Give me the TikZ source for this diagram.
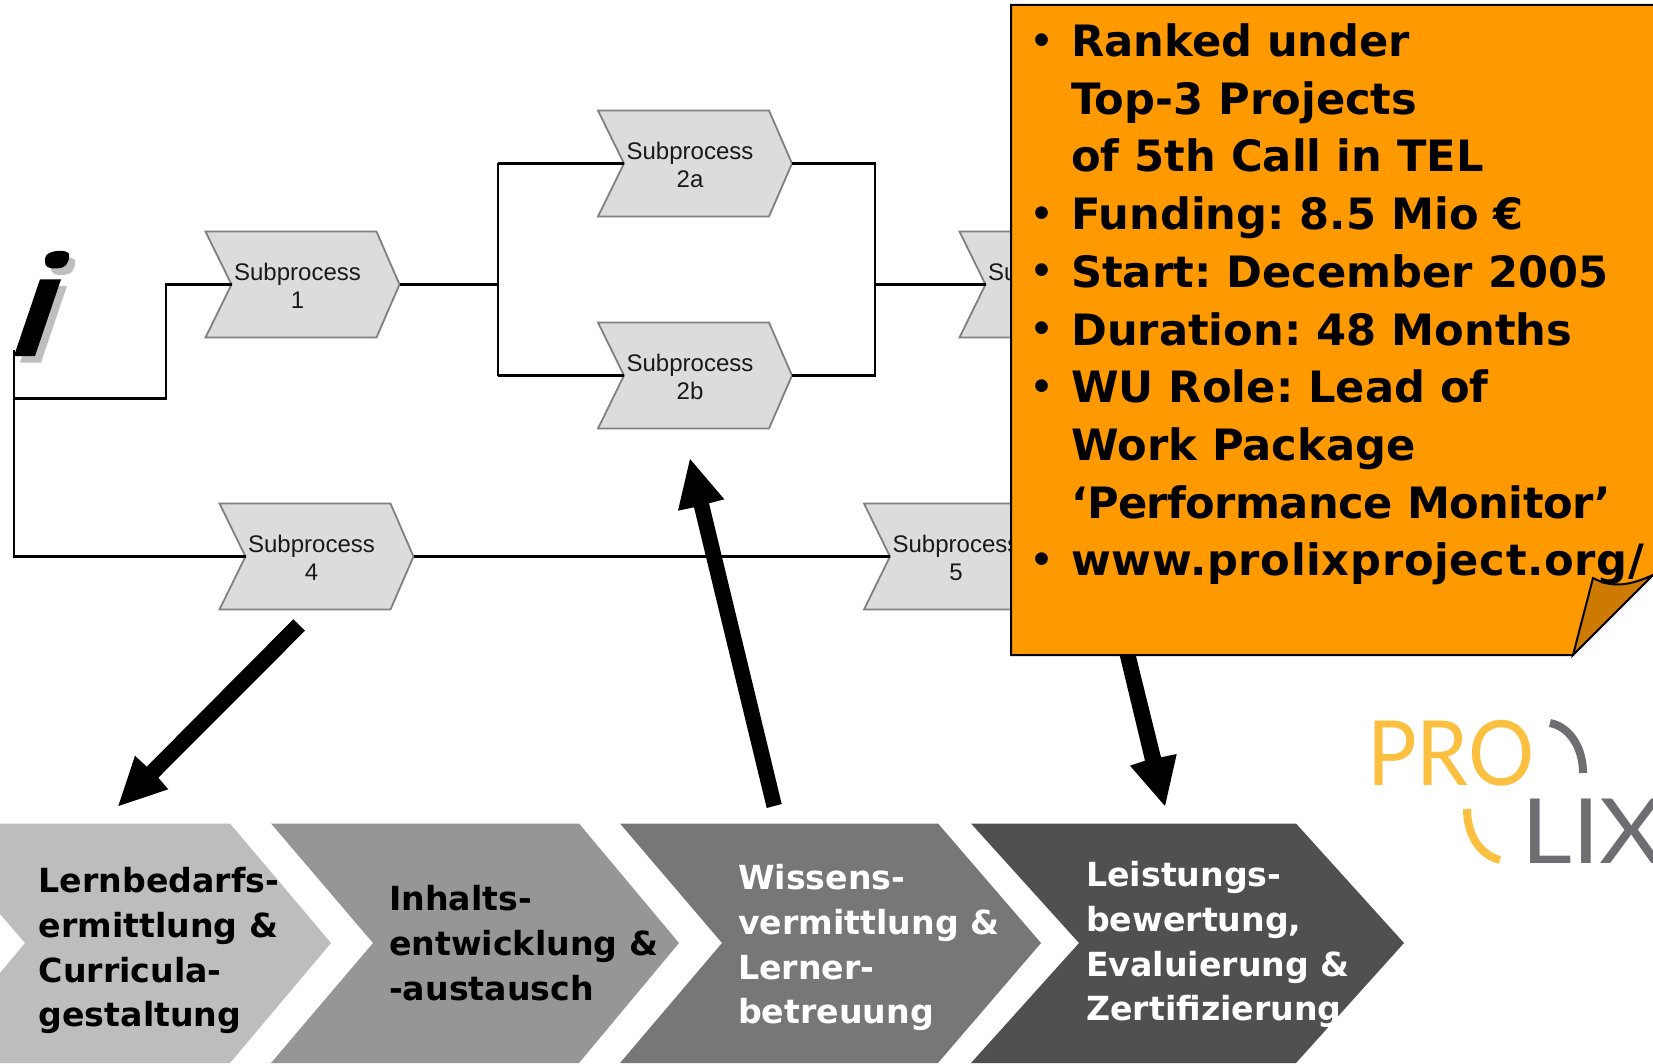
\documentclass[tikz,border=0pt]{standalone}
\usepackage{fontspec}
\setmainfont{Liberation Sans}
\newfontfamily\verd{DejaVu Sans}
\newfontfamily\logofont{Lato}
\definecolor{subfill}{HTML}{DCDCDC}
\definecolor{subedge}{HTML}{808080}
\definecolor{notefill}{HTML}{FF9900}
\definecolor{notefold}{HTML}{CC7A00}
\definecolor{logoy}{HTML}{FBC040}
\definecolor{logog}{HTML}{6D6E71}
\definecolor{iconshadow}{HTML}{BEBEBE}
\tikzset{
  subshape/.style={fill=subfill,draw=subedge,line width=1.8pt,line join=miter},
  sublabel/.style={font=\fontsize{24}{28}\selectfont,align=center,inner sep=0pt,text=black!90},
  conn/.style={draw=black,line width=2.5pt,line join=miter},
  bigarrow/.style={fill=black,draw=none},
  chevlabel/.style={font=\frenchspacing\verd\bfseries\fontsize{33.2}{44.6}\selectfont,align=left,inner sep=0pt,anchor=north west},
  notelabel/.style={font=\frenchspacing\verd\bfseries\fontsize{43.2}{57.7}\selectfont,align=left,inner sep=0pt,anchor=north west,text=black},
  logotext/.style={font=\logofont\fontsize{90}{90}\selectfont,inner sep=0pt,anchor=base west},
  logoarc/.style={line width=8pt,line cap=butt},
}
% name, left x, mid y, label
\newcommand{\subproc}[4]{%
  \path[subshape] (#2,#3-53) -- (#2+171,#3-53) -- (#2+194,#3) -- (#2+171,#3+53) -- (#2,#3+53) -- (#2+26,#3) -- cycle;
  \coordinate (#1-in) at (#2+26,#3);
  \coordinate (#1-out) at (#2+194,#3);
  \node[sublabel] (#1) at (#2+92,#3+1) {#4};
}
\newcommand{\bul}{\llap{\raisebox{3.5pt}{\fontsize{36}{36}\selectfont•}\hspace{17.5pt}}}
\begin{document}
\begin{tikzpicture}[x=1pt,y=-1pt]
\useasboundingbox (0,0) rectangle (1653,1064);
\clip (0,0) rectangle (1653,1064);
\fill[white] (0,0) rectangle (1653,1064);

% connector junctions
\coordinate (start) at (14,350);
\coordinate (branch) at (14,398.5);
\coordinate (low) at (14,556.5);
\coordinate (up) at (166,398.5);
\coordinate (upb) at (166,284.5);
\coordinate (j1) at (498,284.5);
\coordinate (j1a) at (498,163.5);
\coordinate (j1b) at (498,375.5);
\coordinate (j2) at (875,284.5);
\coordinate (j2a) at (875,163.5);
\coordinate (j2b) at (875,375.5);

% info icon
\begin{scope}[shift={(6,6.5)}]
  \fill[iconshadow] (40,279.3) -- (61,279.3) -- (35,356) -- (14,356) -- cycle;
  \fill[iconshadow] (46,256) .. controls (49,250) and (67,249) .. (69,254) .. controls (70,262) and (66,268.5) .. (56,268.5) .. controls (45,269) and (43,263) .. (46,256) -- cycle;
\end{scope}
\fill[black] (40,279.3) -- (61,279.3) -- (35,356) -- (14,356) -- cycle;
\fill[black] (46,256) .. controls (49,250) and (67,249) .. (69,254) .. controls (70,262) and (66,268.5) .. (56,268.5) .. controls (45,269) and (43,263) .. (46,256) -- cycle;

% subprocess shapes
\subproc{s1}{205.5}{284.5}{Subprocess\\1}
\subproc{s2a}{598}{163.5}{Subprocess\\2a}
\subproc{s2b}{598}{375.5}{Subprocess\\2b}
\subproc{s3}{959.5}{284.5}{Subprocess\\3}
\subproc{s4}{219.5}{556.5}{Subprocess\\4}
\subproc{s5}{864}{556.5}{Subprocess\\5}

% connectors
\draw[conn] (start) -- (low) -- (s4-in);
\draw[conn] (branch) -- (up) -- (upb) -- (s1-in);
\draw[conn] (s1-out) -- (j1);
\draw[conn] (j1a) -- (j1b);
\draw[conn] (j1a) -- (s2a-in);
\draw[conn] (j1b) -- (s2b-in);
\draw[conn] (s2a-out) -- (j2a) -- (j2b) -- (s2b-out);
\draw[conn] (j2) -- (s3-in);
\draw[conn] (s4-out) -- (s5-in);

% big arrows
\fill[bigarrow] (293.3,619.3) -- (305,630.7) -- (158.3,777.7) -- (168.3,789.3) -- (118.3,806) -- (135,755.7) -- (146.7,766.7) -- cycle;
\fill[bigarrow] (781.7,804) -- (766.7,808) -- (694,507.3) -- (678,510.7) -- (690,459) -- (724.3,499.3) -- (709,503.3) -- cycle;
\fill[bigarrow] (1116,640) -- (1132,640) -- (1161,757.3) -- (1176.7,754) -- (1165,806) -- (1130,765.7) -- (1145,760.7) -- cycle;

% value chain
\fill[fill={rgb,255:red,189;green,189;blue,189}] (0,823.5) -- (230,823.5) -- (331,943) -- (230,1063) -- (0,1063) -- (0,973) -- (25,943) -- (0,914) -- cycle;
\fill[fill={rgb,255:red,150;green,150;blue,150}] (271,823.5) -- (579,823.5) -- (679,943) -- (579,1063) -- (271,1063) -- (373,943) -- cycle;
\fill[fill={rgb,255:red,119;green,119;blue,119}] (620,823.5) -- (938,823.5) -- (1041,943) -- (938,1063) -- (620,1063) -- (722,943) -- cycle;
\fill[fill={rgb,255:red,80;green,80;blue,80}] (971,823.5) -- (1296,823.5) -- (1404,943) -- (1296,1063) -- (971,1063) -- (1079,943) -- cycle;

\node[chevlabel] (c1) at (38.5,867.5) {Lernbedarfs-\\ermittlung \&\\Curricula-\\gestaltung};
\node[chevlabel] (c2) at (389,885.5) {Inhalts-\\entwicklung \&\\-austausch};
\node[chevlabel,text=white] (c3) at (738,864.5) {Wissens-\\vermittlung \&\\Lerner-\\betreuung};
\node[chevlabel,text=white] (c4) at (1086,861.5) {Leistungs-\\bewertung,\\Evaluierung \&\\Zertifizierung};

% logo
\node[logotext,text=logoy,xscale=0.92] (logoa) at (1367,785) {PRO};
\node[logotext,text=logog,xscale=1.1] (logob) at (1521,863) {LIX};
\draw[logoarc,draw=logog] (1550,723) .. controls (1570,727) and (1583,748) .. (1583,773);
\draw[logoarc,draw=logoy] (1467,809) .. controls (1467,835) and (1480,855) .. (1500,860);

% sticky note
\path[fill=notefill,draw=black,line width=2pt,line join=miter] (1011,5) -- (1660,5) -- (1660,568) -- (1573,655) -- (1011,655) -- cycle;
\path[fill=notefold,draw=black,line width=2pt,line join=miter] (1573,655) -- (1593,578) .. controls (1615,590) and (1635,583) .. (1653,575) -- cycle;
\node[notelabel] (note) at (1071,23.5) {\bul Ranked under\\Top-3 Projects\\of 5th Call in TEL\\\bul Funding: 8.5 Mio €\\\bul Start: December 2005\\\bul Duration: 48 Months\\\bul WU Role: Lead of\\Work Package\\{\addfontfeature{LetterSpace=-1.4}‘Performance Monitor’}\\\bul {\addfontfeature{LetterSpace=1.5}www.prolixproject.org/}};
\end{tikzpicture}
\end{document}
